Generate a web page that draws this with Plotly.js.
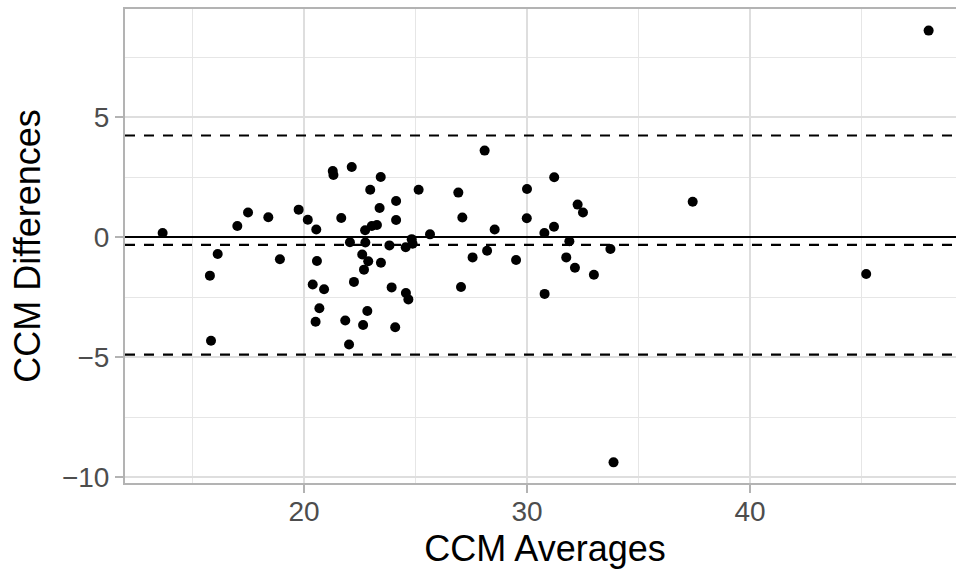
<!DOCTYPE html>
<html>
<head>
<meta charset="utf-8">
<script src="https://cdn.plot.ly/plotly-3.0.1.min.js"></script>
<style>
html, body { margin: 0; padding: 0; overflow: hidden; background: #fff; }
#chart { width: 965px; height: 572px; }
</style>
</head>
<body>
<div id="chart"></div>
<script>
// CCM averages (x) and CCM differences (y)
const ccmAverages = [13.66, 15.78, 15.83, 16.13, 17.01, 17.49, 18.40, 18.92, 19.76, 20.17,
  20.55, 20.58, 20.39, 20.90, 20.69, 20.52, 21.29, 21.32, 22.14, 21.67,
  22.06, 22.24, 21.85, 22.02, 22.97, 23.44, 23.39, 24.13, 24.13, 22.74,
  23.04, 23.27, 22.75, 22.61, 22.88, 22.69, 23.45, 23.83, 22.84, 22.65,
  23.93, 24.09, 24.57, 24.68, 24.56, 24.83, 24.87, 25.14, 25.65, 26.92,
  27.10, 28.10, 28.55, 27.56, 28.21, 29.51, 27.04, 30.00, 29.99, 31.22,
  31.21, 30.78, 31.90, 31.76, 32.15, 30.79, 32.27, 32.51, 33.00, 33.74,
  37.43, 48.01, 45.21, 33.88];
const ccmDifferences = [0.17, -1.61, -4.32, -0.71, 0.46, 1.02, 0.82, -0.93, 1.14, 0.72,
  0.31, -1.00, -1.98, -2.18, -2.97, -3.53, 2.75, 2.58, 2.92, 0.79,
  -0.22, -1.87, -3.48, -4.48, 1.97, 2.50, 1.21, 1.50, 0.71, 0.28,
  0.46, 0.50, -0.23, -0.73, -1.01, -1.36, -1.07, -0.35, -3.08, -3.67,
  -2.10, -3.76, -2.33, -2.60, -0.43, -0.09, -0.28, 1.97, 0.11, 1.85,
  0.81, 3.60, 0.31, -0.85, -0.57, -0.96, -2.08, 2.00, 0.78, 2.49,
  0.43, 0.17, -0.18, -0.85, -1.28, -2.37, 1.35, 1.02, -1.57, -0.50,
  1.47, 8.60, -1.54, -9.39];
// Horizontal reference levels
const dashedLevels = [4.23, -0.33, -4.90];   // upper limit, mean difference, lower limit
const solidLevels = [0];
const xTitle = "CCM Averages";
const yTitle = "CCM Differences";

const shapes = [];
solidLevels.forEach(v => shapes.push({
  type: 'line', xref: 'paper', x0: 0, x1: 1, yref: 'y', y0: v, y1: v,
  line: {color: '#000000', width: 2.2, dash: 'solid'}, layer: 'above'
}));
dashedLevels.forEach(v => shapes.push({
  type: 'line', xref: 'paper', x0: 0, x1: 1, yref: 'y', y0: v, y1: v,
  line: {color: '#000000', width: 2.2, dash: '10px,9px'}, layer: 'above'
}));

const trace = {
  type: 'scatter', mode: 'markers',
  x: ccmAverages, y: ccmDifferences,
  marker: {color: '#000', size: 10, line: {width: 0}},
  hoverinfo: 'skip', showlegend: false
};

const tickFont = {family: 'Liberation Sans, Arial, sans-serif', size: 28, color: '#4d4d4d'};
const titleFont = {family: 'Liberation Sans, Arial, sans-serif', size: 36, color: '#000'};

const layout = {
  width: 965, height: 572,
  margin: {l: 125, r: 0, t: 9, b: 89},
  paper_bgcolor: '#fff', plot_bgcolor: '#fff',
  showlegend: false,
  shapes: shapes,
  xaxis: {
    range: [11.973, 49.641], tick0: 0, dtick: 10,
    showgrid: true, gridcolor: '#dedede', gridwidth: 1.6,
    minor: {tick0: 15, dtick: 10, showgrid: true, gridcolor: '#e6e6e6', gridwidth: 1, ticks: ''},
    zeroline: false,
    showline: true, mirror: true, linecolor: '#b3b3b3', linewidth: 2,
    ticks: 'outside', ticklen: 8, tickwidth: 1.5, tickcolor: '#b3b3b3',
    ticklabelstandoff: -6,
    tickfont: tickFont,
    title: {text: xTitle, font: titleFont, standoff: 10}
  },
  yaxis: {
    range: [-10.25, 9.5], tick0: 0, dtick: 5,
    showgrid: true, gridcolor: '#dedede', gridwidth: 1.6,
    minor: {tick0: -7.5, dtick: 5, showgrid: true, gridcolor: '#e6e6e6', gridwidth: 1, ticks: ''},
    zeroline: false,
    showline: true, mirror: true, linecolor: '#b3b3b3', linewidth: 2,
    ticks: 'outside', ticklen: 8, tickwidth: 1.5, tickcolor: '#b3b3b3',
    tickfont: tickFont,
    title: {text: yTitle, font: titleFont, standoff: 10}
  }
};

Plotly.newPlot('chart', [trace], layout, {displayModeBar: false, staticPlot: true});
</script>
</body>
</html>
